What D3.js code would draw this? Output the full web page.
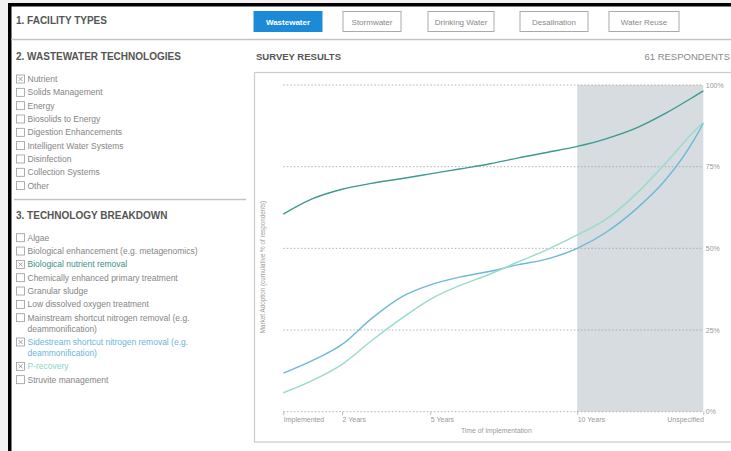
<!DOCTYPE html>
<html>
<head>
<meta charset="utf-8">
<script src="https://cdn.jsdelivr.net/npm/d3@7/dist/d3.min.js"></script>
<style>
  html, body { margin: 0; padding: 0; background: #fff; }
  svg { display: block; font-family: "Liberation Sans", Arial, sans-serif; }
</style>
</head>
<body>
<svg id="chart" width="731" height="451"></svg>
<script>
// ---------- data ----------
const facilityTypes = ["Wastewater", "Stormwater", "Drinking Water", "Desalination", "Water Reuse"];
const activeFacility = "Wastewater";

const wastewaterTech = ["Nutrient", "Solids Management", "Energy", "Biosolids to Energy",
  "Digestion Enhancements", "Intelligent Water Systems", "Disinfection", "Collection Systems", "Other"];
const checkedTech = ["Nutrient"];

const techBreakdown = [
  ["Algae"],
  ["Biological enhancement (e.g. metagenomics)"],
  ["Biological nutrient removal"],
  ["Chemically enhanced primary treatment"],
  ["Granular sludge"],
  ["Low dissolved oxygen treatment"],
  ["Mainstream shortcut nitrogen removal (e.g.", "deammonification)"],
  ["Sidestream shortcut nitrogen removal (e.g.", "deammonification)"],
  ["P-recovery"],
  ["Struvite management"]
];

const respondents = 61;

// time axis (years); "Unspecified" sits at the right end of the axis
const xTickValues = [0, 2, 5, 10, 14.29];
const xTickLabels = ["Implemented", "2 Years", "5 Years", "10 Years", "Unspecified"];
const yTickValues = [0, 25, 50, 75, 100];

// sampled time points (years) and cumulative % of respondents
const years       = [0, 1, 2, 3, 4, 5, 6, 7, 8, 9, 10, 11, 12, 13, 14, 14.29];
const bnr         = [60.5, 65.2, 68.1, 69.9, 71.3, 72.8, 74.3, 75.8, 77.7, 79.4, 81.2, 83.6, 86.8, 91.3, 96.6, 98.2];
const sidestream  = [11.8, 15.7, 20.6, 28.5, 35.0, 38.8, 41.2, 42.9, 45.0, 46.8, 50.0, 55.0, 62.0, 70.9, 83.6, 88.3];
const precovery   = [5.8, 9.6, 14.5, 21.7, 28.4, 34.4, 38.6, 42.0, 45.9, 49.7, 54.1, 59.0, 66.6, 76.0, 86.0, 88.5];

const seriesNames = ["Biological nutrient removal", "Sidestream shortcut nitrogen removal (e.g.", "P-recovery"];
const seriesValues = [bnr, sidestream, precovery];
const seriesColors = ["#3d9a8f", "#6cb9d9", "#98dcca"];
const labelColors = ["#3a8f88", "#6ab5dc", "#8ad6c0"];

const shadeFrom = 10; // shaded region: 10 Years -> Unspecified

// ---------- drawing ----------
const svg = d3.select("#chart");

// background & outer frame
svg.append("rect").attr("width", 731).attr("height", 451).attr("fill", "#f2f2f2");
svg.append("rect").attr("x", 8).attr("y", 3).attr("width", 731).attr("height", 451).attr("fill", "#fff");
svg.append("rect").attr("x", 8).attr("y", 3).attr("width", 731).attr("height", 3.5).attr("fill", "#000");
svg.append("rect").attr("x", 8).attr("y", 3).attr("width", 3.5).attr("height", 451).attr("fill", "#000");

const headColor = "#555";
const textColor = "#858585";

// section 1
svg.append("text").attr("x", 16).attr("y", 24).attr("font-size", 10).attr("font-weight", "bold")
  .attr("fill", headColor).text("1. FACILITY TYPES");

const btnX = [254, 343, 428, 520, 609];
const btnW = [68, 58, 66, 68, 70];
const btns = svg.selectAll("g.btn").data(facilityTypes).join("g").attr("class", "btn")
  .attr("transform", (d, i) => `translate(${btnX[i]},11.5)`);
btns.append("rect").attr("width", (d, i) => btnW[i]).attr("height", 20)
  .attr("fill", d => d === activeFacility ? "#1c8ad6" : "#fff")
  .attr("stroke", d => d === activeFacility ? "#1c8ad6" : "#aaa").attr("stroke-width", 1);
btns.append("text").attr("x", (d, i) => btnW[i] / 2).attr("y", 13.3).attr("text-anchor", "middle")
  .attr("font-size", 8).attr("font-weight", d => d === activeFacility ? "bold" : "normal")
  .attr("fill", d => d === activeFacility ? "#fff" : "#888").text(d => d);

svg.append("line").attr("x1", 11).attr("x2", 731).attr("y1", 39.5).attr("y2", 39.5)
  .attr("stroke", "#c4c4c4").attr("stroke-width", 1.5);

// section 2
svg.append("text").attr("x", 16).attr("y", 60).attr("font-size", 10).attr("font-weight", "bold")
  .attr("fill", headColor).text("2. WASTEWATER TECHNOLOGIES");

function checkbox(g, checked) {
  g.append("rect").attr("x", 16.5).attr("y", -4).attr("width", 8).attr("height", 8)
    .attr("fill", "#fff").attr("stroke", "#999").attr("stroke-width", 0.8);
  if (checked) {
    g.append("path").attr("d", "M18.5,-2L22.5,2M22.5,-2L18.5,2").attr("stroke", "#888").attr("stroke-width", 0.8);
  }
}

wastewaterTech.forEach((t, i) => {
  const g = svg.append("g").attr("transform", `translate(0,${79 + i * 13.33})`);
  checkbox(g, checkedTech.includes(t));
  g.append("text").attr("x", 27.5).attr("y", 3).attr("font-size", 8.5).attr("fill", textColor).text(t);
});

svg.append("line").attr("x1", 14).attr("x2", 246).attr("y1", 199.5).attr("y2", 199.5)
  .attr("stroke", "#c4c4c4").attr("stroke-width", 1.5);

// section 3
svg.append("text").attr("x", 16).attr("y", 219).attr("font-size", 10).attr("font-weight", "bold")
  .attr("fill", headColor).text("3. TECHNOLOGY BREAKDOWN");

let yy = 237.7;
techBreakdown.forEach(lines => {
  const si = seriesNames.indexOf(lines[0]);
  const g = svg.append("g").attr("transform", `translate(0,${yy})`);
  checkbox(g, si >= 0);
  lines.forEach((ln, j) => {
    g.append("text").attr("x", 27.5).attr("y", 3 + j * 11).attr("font-size", 8.5)
      .attr("fill", si >= 0 ? labelColors[si] : textColor).text(ln);
  });
  yy += 13.33 + (lines.length - 1) * 11;
});

// survey results header
svg.append("text").attr("x", 256).attr("y", 60).attr("font-size", 9.5).attr("font-weight", "bold")
  .attr("fill", headColor).text("SURVEY RESULTS");
svg.append("text").attr("x", 730).attr("y", 60).attr("text-anchor", "end").attr("font-size", 9.5)
  .attr("fill", "#888").text(`${respondents} RESPONDENTS`);

// chart panel
svg.append("rect").attr("x", 254.5).attr("y", 72.5).attr("width", 500).attr("height", 369.5)
  .attr("fill", "#fff").attr("stroke", "#ccc").attr("stroke-width", 1.2);

const x = d3.scaleLinear().domain([0, d3.max(xTickValues)]).range([283.3, 703.3]);
const y = d3.scaleLinear().domain([0, 100]).range([411.7, 85]);

// shaded future region
svg.append("rect").attr("x", x(shadeFrom)).attr("y", y(100))
  .attr("width", x(d3.max(xTickValues)) - x(shadeFrom)).attr("height", y(0) - y(100))
  .attr("fill", "#d6dcdf");

// gridlines + y labels (right side)
const gy = svg.append("g");
gy.selectAll("line").data(yTickValues).join("line")
  .attr("x1", x(0)).attr("x2", x(d3.max(xTickValues)))
  .attr("y1", d => y(d)).attr("y2", d => y(d))
  .attr("stroke", "#a8a8a8").attr("stroke-width", 0.9).attr("stroke-dasharray", "1.5,2");
gy.selectAll("text").data(yTickValues).join("text")
  .attr("x", x(d3.max(xTickValues)) + 2.5).attr("y", d => y(d) + 2.5)
  .attr("font-size", 7).attr("fill", "#999").text(d => d + "%");

// x axis
const xAxis = d3.axisBottom(x).tickValues(xTickValues).tickSize(3.5).tickFormat((d, i) => xTickLabels[i]);
const gx = svg.append("g").attr("transform", `translate(0,${y(0)})`).call(xAxis);
gx.select(".domain").remove();
gx.selectAll(".tick line").attr("stroke", "#aaa").attr("stroke-width", 0.8);
gx.selectAll(".tick text").attr("font-size", 7).attr("fill", "#999").attr("dy", "0.35em").attr("y", 7.5)
  .attr("font-family", "Liberation Sans, Arial, sans-serif")
  .attr("text-anchor", (d, i) => i === xTickValues.length - 1 ? "end" : "start");

svg.append("text").attr("x", (x(0) + x(d3.max(xTickValues))) / 2 + 3).attr("y", 432.5)
  .attr("text-anchor", "middle").attr("font-size", 6.8).attr("fill", "#999").text("Time of Implementation");

svg.append("text").attr("transform", `translate(265,267) rotate(-90)`)
  .attr("text-anchor", "middle").attr("font-size", 6.3).attr("fill", "#999")
  .text("Market Adoption (cumulative % of respondents)");

// lines
const line = d3.line().x((d, i) => x(years[i])).y(d => y(d)).curve(d3.curveMonotoneX);
svg.append("g").selectAll("path").data(seriesValues).join("path")
  .attr("d", d => line(d)).attr("fill", "none")
  .attr("stroke", (d, i) => seriesColors[i]).attr("stroke-width", 1.4);
</script>
</body>
</html>
